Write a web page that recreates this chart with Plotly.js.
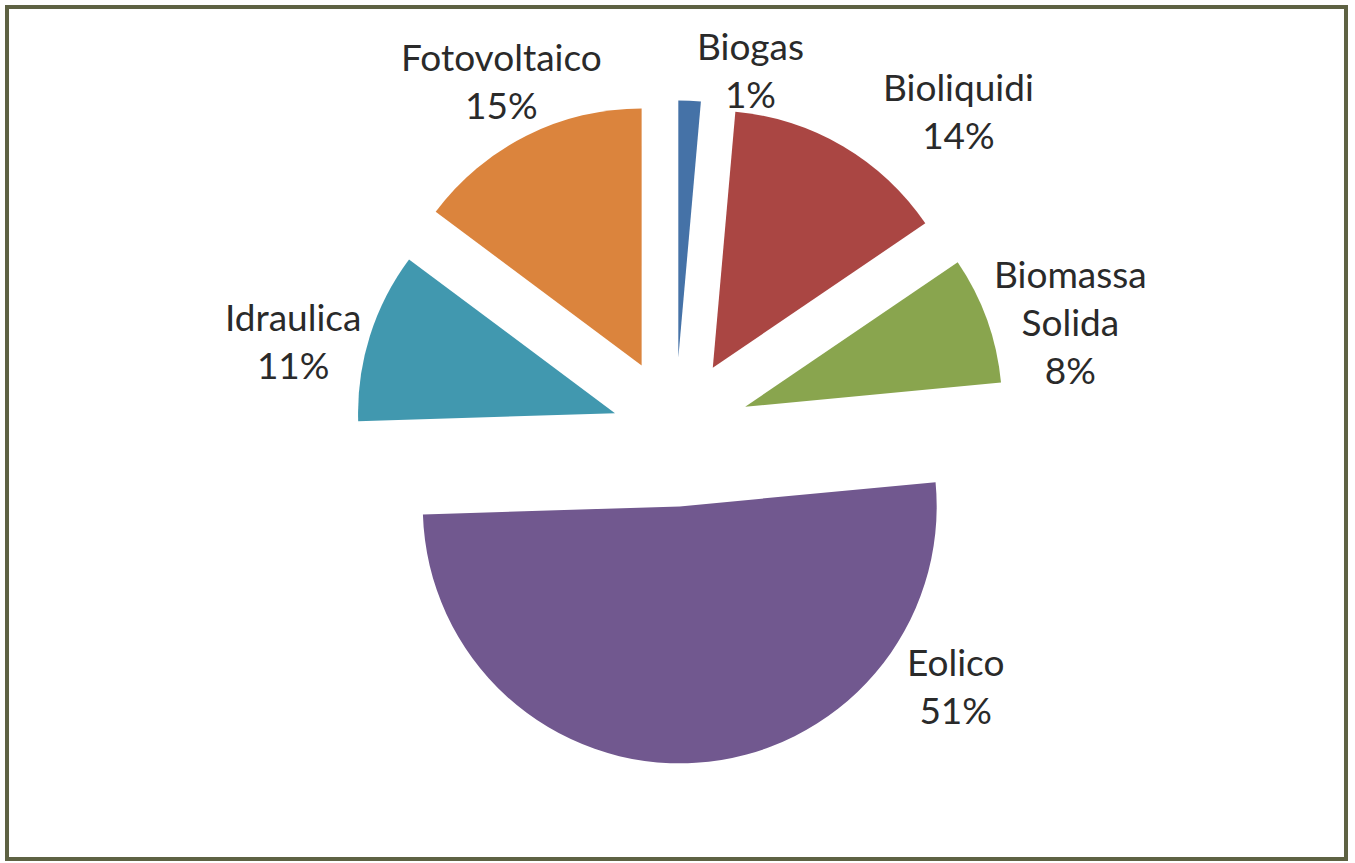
<!DOCTYPE html>
<html>
<head>
<meta charset="utf-8">
<script src="https://cdn.plot.ly/plotly-3.0.1.min.js"></script>
<style>html,body{margin:0;padding:0;background:#fff;}#chart{width:1355px;height:863px;}</style>
</head>
<body>
<div id="chart"></div>
<script>
// Data
const labels = ["Biogas", "Bioliquidi", "Biomassa Solida", "Eolico", "Idraulica", "Fotovoltaico"];
const displayLabels = ["Biogas", "Bioliquidi", "Biomassa<br>Solida", "Eolico", "Idraulica", "Fotovoltaico"];
const values = [1.4, 14.1, 8.0, 51.0, 10.7, 14.8];
const colors = ["#4572A7", "#AA4643", "#89A54E", "#71588F", "#4198AF", "#DB843D"];
const pulls = [0.29, 0.29, 0.29, 0.29, 0.245, 0.29];
// label block centres (paper pixels) – layout only
const labelPos = [[750, 70], [958, 110], [1070, 322], [955, 685], [293, 340], [502, 80]];

const W = 1355, H = 863;
const total = values.reduce((a, b) => a + b, 0);

const trace = {
  type: "pie",
  values: values,
  labels: labels,
  marker: { colors: colors, line: { width: 0 } },
  sort: false,
  direction: "clockwise",
  rotation: 0,
  pull: pulls,
  textinfo: "none",
  hoverinfo: "label+percent",
  showlegend: false,
  domain: { x: [0.2030, 0.7934], y: [0.1153, 0.8835] }
};

const annotations = labels.map((l, i) => ({
  xref: "paper", yref: "paper",
  x: labelPos[i][0] / W, y: 1 - labelPos[i][1] / H,
  xanchor: "center", yanchor: "middle",
  showarrow: false,
  align: "center",
  text: displayLabels[i] + "<br>" + Math.round(values[i] / total * 100) + "%",
  font: { family: "Lato, 'Open Sans', sans-serif", size: 37, color: "#2a2a2a" }
}));

const layout = {
  width: W, height: H,
  margin: { l: 0, r: 0, t: 0, b: 0 },
  paper_bgcolor: "#ffffff",
  showlegend: false,
  annotations: annotations,
  shapes: [{
    type: "rect", xref: "paper", yref: "paper",
    x0: 7 / W, x1: 1346 / W, y0: 1 - 859 / H, y1: 1 - 7 / H,
    line: { color: "#5E6243", width: 4 }, fillcolor: "rgba(0,0,0,0)"
  }]
};

Plotly.newPlot("chart", [trace], layout, { displayModeBar: false, staticPlot: true });
</script>
</body>
</html>
